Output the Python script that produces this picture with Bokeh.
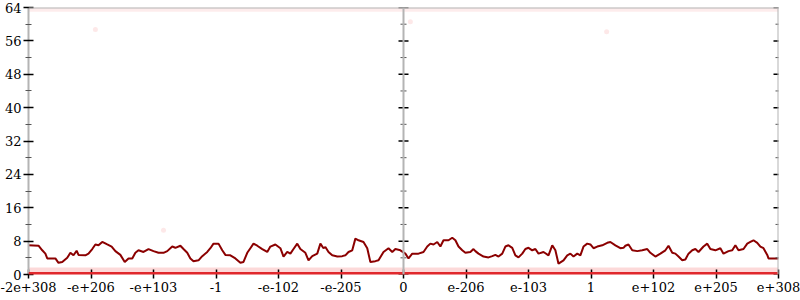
from bokeh.plotting import figure
from bokeh.models import Range1d, FixedTicker, Span
from bokeh.embed import file_html
from bokeh.resources import INLINE

# ---- data ----
x_tick_pos = [-6, -5, -4, -3, -2, -1, 0, 1, 2, 3, 4, 5, 6]
x_tick_labels = ["-2e+308", "-e+206", "-e+103", "-1", "-e-102", "-e-205", "0",
                 "e-206", "e-103", "1", "e+102", "e+205", "e+308"]
y_major = [0, 8, 16, 24, 32, 40, 48, 56, 64]
y_minor = [4, 12, 20, 28, 36, 44, 52, 60]

line_x = [-6.0, -5.84, -5.78, -5.73, -5.70, -5.57, -5.52, -5.46, -5.38, -5.33, -5.28, -5.23, -5.20,
          -5.09, -5.04, -4.98, -4.93, -4.88, -4.82, -4.74, -4.67, -4.61, -4.53, -4.46, -4.40, -4.34,
          -4.29, -4.24, -4.16, -4.08, -4.00, -3.92, -3.84, -3.78, -3.70, -3.65, -3.57, -3.52, -3.46,
          -3.41, -3.36, -3.28, -3.22, -3.14, -3.09, -3.04, -2.96, -2.90, -2.85, -2.77, -2.69, -2.61,
          -2.56, -2.50, -2.45, -2.40, -2.34, -2.26, -2.18, -2.13, -2.05, -1.97, -1.92, -1.86, -1.81,
          -1.76, -1.70, -1.65, -1.57, -1.52, -1.46, -1.38, -1.33, -1.28, -1.25, -1.20, -1.14, -1.06,
          -0.98, -0.93, -0.88, -0.82, -0.77, -0.72, -0.64, -0.58, -0.53, -0.45, -0.40, -0.32, -0.24,
          -0.18, -0.13, -0.05, 0.03, 0.08, 0.14, 0.24, 0.32, 0.38, 0.43, 0.48, 0.54, 0.59, 0.64,
          0.72, 0.78, 0.83, 0.88, 0.94, 0.99, 1.07, 1.12, 1.15, 1.20, 1.28, 1.36, 1.42, 1.47, 1.52,
          1.58, 1.63, 1.68, 1.74, 1.79, 1.84, 1.90, 1.95, 2.00, 2.06, 2.11, 2.16, 2.24, 2.32, 2.38,
          2.43, 2.48, 2.56, 2.62, 2.67, 2.72, 2.78, 2.83, 2.88, 2.94, 2.99, 3.04, 3.10, 3.18, 3.26,
          3.31, 3.39, 3.47, 3.52, 3.55, 3.60, 3.66, 3.74, 3.82, 3.90, 3.95, 4.03, 4.11, 4.19, 4.24,
          4.30, 4.35, 4.40, 4.46, 4.51, 4.56, 4.62, 4.67, 4.72, 4.80, 4.86, 4.91, 4.99, 5.07, 5.12,
          5.20, 5.26, 5.31, 5.36, 5.44, 5.50, 5.55, 5.60, 5.66, 5.71, 5.76, 5.82, 5.84, 5.95, 6.0]
line_y = [7.0, 6.9, 5.8, 5.0, 3.85, 3.85, 2.8, 3.0, 4.0, 5.2, 4.6, 5.7, 4.7,
          4.6, 5.0, 6.1, 7.2, 7.0, 7.8, 7.2, 6.7, 5.6, 4.7, 3.0, 3.85, 3.85,
          5.2, 5.8, 5.4, 6.1, 5.6, 5.2, 5.2, 5.6, 6.7, 6.4, 6.9, 6.1, 5.2,
          3.85, 3.2, 3.4, 4.4, 5.4, 6.3, 7.4, 7.4, 5.8, 4.7, 4.6, 3.85, 2.8,
          3.0, 5.2, 6.3, 7.4, 6.9, 6.1, 5.4, 6.7, 7.2, 6.3, 4.3, 5.4, 5.0,
          6.1, 7.4, 6.1, 5.2, 3.4, 4.4, 5.0, 7.4, 6.3, 6.6, 5.4, 4.6, 4.3,
          4.4, 4.6, 5.4, 5.8, 8.6, 8.2, 7.8, 6.3, 3.0, 3.2, 3.4, 5.4, 6.3,
          5.4, 6.1, 5.8, 5.0, 3.85, 5.0, 5.0, 5.4, 6.7, 7.4, 7.2, 7.8, 6.7, 8.2,
          8.2, 8.8, 8.2, 6.7, 5.8, 5.2, 5.4, 6.1, 5.6, 5.0, 4.3, 4.1, 4.4, 4.7, 4.3,
          5.0, 6.7, 7.0, 6.4, 4.6, 4.1, 5.0, 6.1, 6.4, 5.8, 6.1, 5.0, 5.4, 4.6, 7.0,
          5.8, 2.6, 3.4, 4.6, 5.0, 4.3, 5.0, 4.6, 6.7, 7.4, 7.2, 6.3, 6.7, 7.0, 7.6,
          7.8, 7.0, 6.3, 6.4, 6.9, 7.2, 5.8, 5.6, 5.8, 6.1, 5.2, 4.3, 5.0, 5.8, 6.9,
          5.2, 5.0, 4.3, 3.4, 3.6, 5.0, 5.8, 6.1, 5.4, 6.7, 7.4, 6.1, 5.8, 6.3, 5.0,
          5.6, 5.8, 7.0, 5.8, 6.1, 7.4, 7.8, 8.2, 7.6, 6.7, 6.3, 4.7, 3.85, 3.85, 3.85]

low_band = [0, 1.7]
high_band = [63, 64]
stray_x = [-4.93, -3.84, 0.11, 3.25]
stray_y = [58.7, 10.6, 60.6, 58.2]

FONT = "DejaVu Serif"
AXIS_GRAY = "#b4b4b4"

p = figure(width=800, height=300, output_backend="svg", toolbar_location=None,
           x_range=Range1d(x_tick_pos[0], x_tick_pos[-1]), y_range=Range1d(y_major[0], y_major[-1]),
           min_border_left=28, min_border_right=22, min_border_top=7, min_border_bottom=26)
p.grid.visible = False
p.outline_line_color = None
p.background_fill_color = "white"
p.border_fill_color = "white"

# faint bands of points near 0 and 64
p.quad(left=x_tick_pos[0], right=x_tick_pos[-1], bottom=low_band[0], top=low_band[1],
       fill_color="#f04040", fill_alpha=0.2, line_color=None)
p.quad(left=x_tick_pos[0], right=x_tick_pos[-1], bottom=high_band[0], top=high_band[1],
       fill_color="#f04040", fill_alpha=0.1, line_color=None)
p.scatter(stray_x, stray_y, size=5, fill_color="#f04040", fill_alpha=0.12, line_color=None)

# main line
p.line(line_x, line_y, line_color="#8b0000", line_width=2)

# baseline at 0 (red), top line at 64 (gray)
p.add_layout(Span(location=low_band[0], dimension="width", line_color="#e0282c", line_width=5))
p.add_layout(Span(location=high_band[1], dimension="width", line_color=AXIS_GRAY, line_width=2))

# center (x=0) and right (x=max) axes drawn as lines with tick marks
for xpos in (x_tick_pos[6], x_tick_pos[-1]):
    p.add_layout(Span(location=xpos, dimension="height", line_color=AXIS_GRAY, line_width=2))
    p.scatter([xpos] * len(y_minor), y_minor, marker="dash", size=6,
              line_color="#555555", line_width=1)
    p.scatter([xpos] * len(y_major), y_major, marker="dash", size=10,
              line_color="black", line_width=1.5)

# x axis
xa = p.xaxis[0]
xa.ticker = FixedTicker(ticks=x_tick_pos, minor_ticks=[])
xa.major_label_overrides = {t: l for t, l in zip(x_tick_pos, x_tick_labels)}
xa.axis_line_color = None
xa.major_tick_in = 5
xa.major_tick_out = 4
xa.major_tick_line_color = "black"
xa.major_tick_line_width = 1.5
xa.minor_tick_line_color = None
xa.major_label_text_font = FONT
xa.major_label_text_font_size = "13px"
xa.major_label_text_color = "black"
xa.major_label_standoff = 3

ya = p.yaxis[0]
ya.ticker = FixedTicker(ticks=y_major, minor_ticks=y_minor)
ya.axis_line_color = AXIS_GRAY
ya.axis_line_width = 2
ya.major_tick_in = 5
ya.major_tick_out = 5
ya.major_tick_line_color = "black"
ya.major_tick_line_width = 1.5
ya.minor_tick_in = 3
ya.minor_tick_out = 3
ya.minor_tick_line_color = "#555555"
ya.minor_tick_line_width = 1
ya.major_label_text_font = FONT
ya.major_label_text_font_size = "13px"
ya.major_label_text_color = "black"
ya.major_label_standoff = 2

open("out.html", "w").write(file_html(p, INLINE))
